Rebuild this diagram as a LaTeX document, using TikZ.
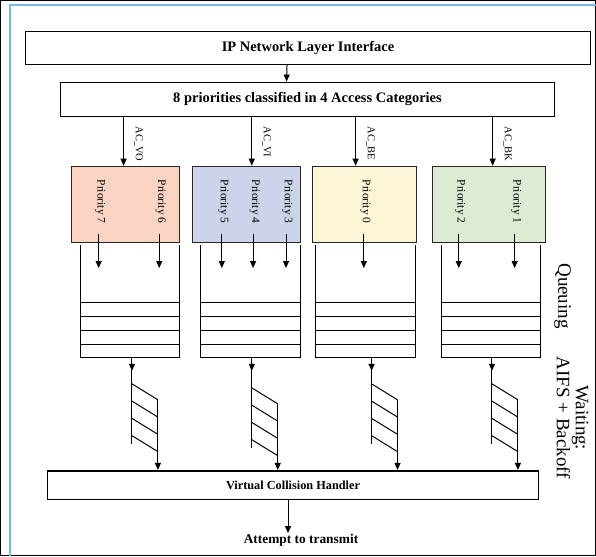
\documentclass[tikz,border=0pt]{standalone}
\usepackage{fontspec}
\setmainfont{Liberation Serif}
\usetikzlibrary{arrows.meta, calc, positioning}

\definecolor{frameblue}{RGB}{122,184,234}
\definecolor{voorange}{RGB}{250,211,195}
\definecolor{viblue}{RGB}{205,211,232}
\definecolor{beyellow}{RGB}{251,246,213}
\definecolor{bkgreen}{RGB}{221,235,211}

\begin{document}
\begin{tikzpicture}[
    x=1pt, y=-1pt,
    every node/.style={inner sep=1pt},
    layerbox/.style={draw=black, line width=1.6pt, font=\bfseries\fontsize{14.5}{16}\selectfont},
    acbox/.style={draw=black!85, line width=1pt, minimum height=76pt},
    aclabel/.style={rotate=-90, anchor=west, font=\fontsize{10.5}{12}\selectfont},
    prio/.style={rotate=-90, anchor=west, font=\fontsize{11.5}{13}\selectfont},
    side/.style={rotate=-90, align=center, font=\fontsize{19}{19}\selectfont},
    arr/.style={-{Triangle[length=7pt, width=6pt]}},
    every path/.style={line width=1pt, draw=black}
]
\useasboundingbox (0,0) rectangle (596,556);

% Frame
\draw[frameblue, line width=2pt] (10,556) -- (10,5) -- (596,5);

% Layers on top
\node[layerbox, minimum width=566pt, minimum height=33pt] (ip) at (308,47.5) {IP Network Layer Interface};
\node[layerbox, minimum width=495pt, minimum height=34pt] (cat) at (307.5,99) {8 priorities classified in 4 Access Categories};
\draw[arr] ([xshift=-21pt]ip.south) -- ([xshift=-21pt]cat.north);

% Access categories
\node[acbox, fill=voorange, minimum width=108pt] (acvo) at (125,204) {};
\node[acbox, fill=viblue, minimum width=109pt] (acvi) at (246.5,204) {};
\node[acbox, fill=beyellow, minimum width=104pt] (acbe) at (365,204) {};
\node[acbox, fill=bkgreen, minimum width=113pt] (acbk) at (489.5,204) {};

\foreach \n/\dx/\lab in {acvo/-1.7/AC\_VO, acvi/5.2/AC\_VI, acbe/-9.3/AC\_BE, acbk/3.5/AC\_BK} {
    \coordinate (t\n) at ([xshift=\dx pt]\n.north);
    \draw[arr] (cat.south -| t\n) -- (t\n);
    \node[aclabel] at ($(cat.south -| t\n)+(15,8)$) {\lab};
}

% Priorities
\foreach \n/\x/\lab in {p7/98.3/7, p6/159/6, p5/221.7/5, p4/253/4, p3/286/3, p0/364/0, p2/459/2, p1/515/1} {
    \node[prio] (\n) at (\x+1.5,178) {Priority \lab};
    \draw[arr] (\x,234) -- (\x,268);
}

% Queues and waiting
\foreach \i/\a/\b/\c/\d in {1/80/179/131.7/0, 2/200/300/251.7/4, 3/316/416/371.7/0, 4/442/541/492.3/0} {
    \draw (\a,245) |- (\b,358) -- (\b,245);
    \foreach \y in {303,317,331,345}
        \draw (\a,\y) -- (\b,\y);
    \coordinate (qb\i) at (\c,358);
    \draw[arr] (qb\i) -- ++(0,13);
    \draw (qb\i) ++(0,12) -- (\c,444+\d);
    \foreach \k in {0,...,3}
        \draw (\c,384+\d+17.3*\k) -- ++(26,16);
    \coordinate (w\i) at (\c+26,400+\d);
}

\node[layerbox, minimum width=492pt, minimum height=29pt, font=\bfseries\fontsize{12.3}{14}\selectfont] (handler) at (293,485.5) {Virtual Collision Handler};
\foreach \i in {1,...,4}
    \draw[arr] (w\i) -- (w\i |- handler.north);

\node[font=\bfseries\fontsize{13.4}{15}\selectfont] (attempt) at (301,541) {Attempt to transmit};
\draw[arr] ([xshift=-5pt]handler.south) -- ([xshift=-5pt]handler.south |- attempt.north);

% Side labels
\node[side] (queuing) at (563,296) {Queuing};
\node[side] (waiting) at (573,418) {Waiting:\\AIFS + Backoff};

\end{tikzpicture}
\end{document}
